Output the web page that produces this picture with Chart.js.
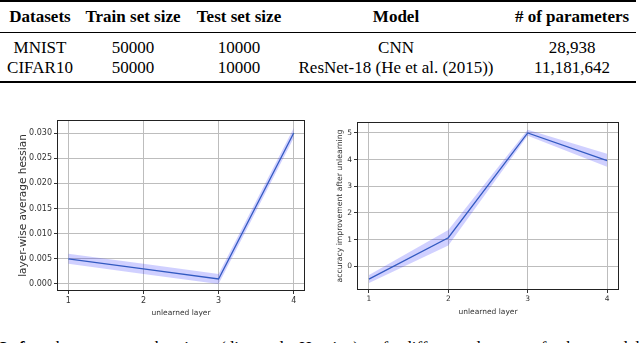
<!DOCTYPE html>
<html>
<head>
<meta charset="utf-8">
<script src="https://cdn.jsdelivr.net/npm/chart.js@4.4.1/dist/chart.umd.min.js"></script>
<style>
body{margin:0;width:640px;height:343px;overflow:hidden;background:#fff;position:relative;font-family:"Liberation Serif","Times New Roman",serif;color:#000}
.rule{position:absolute;left:0;width:636px;background:#000}
.cell{position:absolute;white-space:nowrap;font-size:17px;line-height:17px;transform:translateX(-50%)}
.head{font-weight:bold}
canvas{position:absolute}
#c1{left:0;top:112px}
#c2{left:322px;top:112px}
#caption{position:absolute;left:0;top:339px;width:640px;font-size:17px;line-height:17px;text-align:justify;text-align-last:justify}
</style>
</head>
<body>
<div id="table"></div>
<canvas id="c1" width="312" height="216"></canvas>
<canvas id="c2" width="312" height="216"></canvas>
<div id="caption"><b>Left:</b> the average hessian (diagonal Hessian) of different layers of the model</div>
<script>
// table
const tableHead = ["Datasets", "Train set size", "Test set size", "Model", "# of parameters"];
const tableRows = [
  ["MNIST", "50000", "10000", "CNN", "28,938"],
  ["CIFAR10", "50000", "10000", "ResNet-18 (He et al. (2015))", "11,181,642"]
];

// charts
const layers = [1, 2, 3, 4];
const hessMean = [0.005, 0.003, 0.001, 0.030];
const hessLow = [0.004, 0.002, 0.000, 0.029];
const hessHigh = [0.006, 0.004, 0.002, 0.031];
const hessTicks = [0, 0.005, 0.010, 0.015, 0.020, 0.025, 0.030];

const accMean = [-0.48, 1.07, 5.0, 3.96];
const accLow = [-0.63, 0.78, 4.89, 3.73];
const accHigh = [-0.33, 1.36, 5.12, 4.22];
const accTicks = [0, 1, 2, 3, 4, 5];

// build table
const table = document.getElementById("table")
const colX = [40, 133, 239, 396, 572]
const rowTop = [8, 39, 59]

function addRule(y, h){
  const r = document.createElement("div")
  r.className = "rule"
  r.style.top = y + "px"
  r.style.height = h + "px"
  table.appendChild(r)
}
function addRow(cells, top, bold){
  cells.forEach((t, i) => {
    const d = document.createElement("div")
    d.className = bold ? "cell head" : "cell"
    d.style.left = colX[i] + "px"
    d.style.top = top + "px"
    d.textContent = t
    table.appendChild(d)
  })
}
addRule(0, 2)
addRule(32, 1)
addRule(81, 2)
addRow(tableHead, rowTop[0], true)
tableRows.forEach((r, i) => addRow(r, rowTop[i + 1], false))

const frame = {
  id: "frame",
  afterDatasetsDraw(chart){
    const a = chart.chartArea, c = chart.ctx
    c.save()
    c.strokeStyle = "#222"
    c.lineWidth = 1
    c.strokeRect(Math.round(a.left) + 0.5, Math.round(a.top) + 0.5, Math.round(a.right - a.left) - 1, Math.round(a.bottom - a.top) - 1)
    c.restore()
  }
}

function pts(ys){ return layers.map((x, i) => ({x: x, y: ys[i]})) }

function makeChart(id, o){
  const grid = {color: "#bdbdbd", lineWidth: 1, tickLength: 3, tickColor: "#333", tickWidth: 1}
  return new Chart(document.getElementById(id), {
    type: "line",
    data: {
      datasets: [
        {data: pts(o.low), borderWidth: 0, pointRadius: 0, fill: false},
        {data: pts(o.high), borderWidth: 0, pointRadius: 0, fill: "-1", backgroundColor: "rgba(40,40,255,0.22)"},
        {data: pts(o.mean), borderColor: "#3568b0", borderWidth: 1.3, pointRadius: 0, fill: false, tension: 0}
      ]
    },
    options: {
      responsive: false,
      animation: false,
      devicePixelRatio: 1,
      layout: {padding: {top: o.padTop, right: o.padRight, left: 0, bottom: 0}},
      plugins: {legend: {display: false}, tooltip: {enabled: false}},
      scales: {
        x: {
          type: "linear", min: 0.85, max: 4.15,
          afterBuildTicks: s => { s.ticks = layers.map(v => ({value: v})) },
          afterFit: s => { s.height = o.xH },
          grid: grid,
          border: {display: false},
          ticks: {color: "#333", font: {family: "DejaVu Sans", size: o.tickSize}, padding: 2, maxRotation: 0, callback: v => v},
          title: {display: true, text: "unlearned layer", color: "#333", font: {family: "DejaVu Sans", size: 7.5}, padding: {top: 0, bottom: o.xTitlePad}}
        },
        y: {
          min: o.yMin, max: o.yMax,
          afterBuildTicks: s => { s.ticks = o.ticks.map(v => ({value: v})) },
          afterFit: s => { s.width = o.yW },
          grid: grid,
          border: {display: false},
          ticks: {color: "#333", font: {family: "DejaVu Sans", size: o.tickSize}, padding: 2, callback: o.fmt},
          title: {display: true, text: o.yTitle, color: "#333", font: {family: "DejaVu Sans", size: o.yTitleSize}, padding: {top: o.yTitlePad, bottom: 0}}
        }
      }
    },
    plugins: [frame]
  })
}

makeChart("c1", {
  mean: hessMean, low: hessLow, high: hessHigh, ticks: hessTicks,
  yMin: -0.0014, yMax: 0.0326, fmt: v => v.toFixed(3),
  yTitle: "layer-wise average hessian", yTitleSize: 10.5, yTitlePad: 17,
  padTop: 8, padRight: 7, yW: 57, xH: 37, xTitlePad: 10.5, tickSize: 8
})

makeChart("c2", {
  mean: accMean, low: accLow, high: accHigh, ticks: accTicks,
  yMin: -0.89, yMax: 5.41, fmt: v => v,
  yTitle: "accuracy improvement after unlearning", yTitleSize: 7.7, yTitlePad: 13.5,
  padTop: 10, padRight: 15, yW: 35, xH: 38, xTitlePad: 11, tickSize: 7.5
})
</script>
</body>
</html>
